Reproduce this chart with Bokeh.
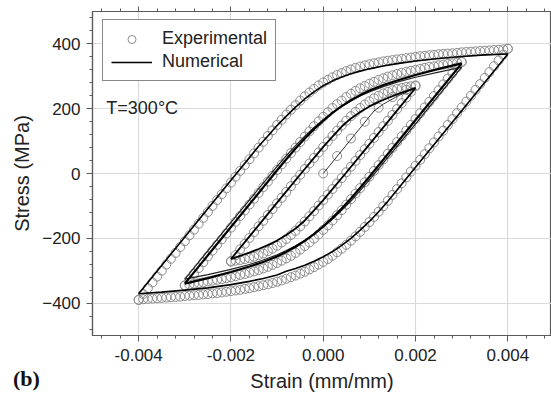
from bokeh.plotting import figure
from bokeh.models import (Legend, LegendItem, LinearAxis, SingleIntervalTicker,
                          NumeralTickFormatter, Label, Range1d, Div)
from bokeh.layouts import column
from bokeh.embed import file_html
from bokeh.resources import INLINE

# ---------------- data ----------------
# Experimental points, loop +/-0.004
STRAIN_A = [-0.0040, -0.0039, -0.0038, -0.0037, -0.0036, -0.0035, -0.0034, -0.0033, -0.0032, -0.0031,
            -0.0030, -0.0029, -0.0028, -0.0027, -0.0026, -0.0025, -0.0024, -0.0023, -0.0022, -0.0021,
            -0.0020, -0.0019, -0.0018, -0.0017, -0.0016, -0.0015, -0.0014, -0.0013, -0.0012, -0.0011,
            -0.0010, -0.0009, -0.0008, -0.0007, -0.0006, -0.0005, -0.0004, -0.0003, -0.0002, -0.0001,
            0.0000, 0.0001, 0.0002, 0.0003, 0.0004, 0.0005, 0.0006, 0.0007, 0.0008, 0.0009,
            0.0010, 0.0011, 0.0012, 0.0013, 0.0014, 0.0015, 0.0016, 0.0017, 0.0018, 0.0019,
            0.0020, 0.0021, 0.0022, 0.0023, 0.0024, 0.0025, 0.0026, 0.0027, 0.0028, 0.0029,
            0.0030, 0.0031, 0.0032, 0.0033, 0.0034, 0.0035, 0.0036, 0.0037, 0.0038, 0.0039, 0.0040]
EXP_A_UP = [-390, -372, -354, -336, -318, -300, -281, -263, -245, -227,
            -209, -191, -173, -155, -137, -119, -100, -82, -64, -46,
            -28, -10, 8, 26, 44, 62, 80, 98, 116, 133,
            150, 166, 182, 197, 211, 225, 238, 250, 261, 272,
            281, 289, 297, 304, 310, 316, 321, 326, 330, 334,
            337, 340, 343, 346, 348, 350, 352, 354, 356, 358,
            360, 362, 363, 365, 366, 368, 369, 370, 371, 372,
            374, 375, 376, 377, 378, 379, 380, 381, 382, 383, 385]
EXP_A_DOWN = [-390, -388, -387, -386, -385, -384, -383, -382, -381, -380,
              -378, -377, -376, -375, -373, -372, -370, -369, -367, -365,
              -363, -361, -359, -356, -354, -351, -348, -345, -342, -338,
              -334, -330, -325, -320, -315, -309, -303, -296, -289, -281,
              -273, -264, -254, -243, -232, -220, -207, -194, -180, -165,
              -150, -134, -118, -101, -84, -66, -48, -30, -12, 6,
              24, 42, 60, 78, 96, 114, 132, 150, 168, 186,
              204, 222, 240, 258, 276, 295, 313, 331, 349, 367, 385]

# Experimental points, loop +/-0.003
STRAIN_B = [-0.0030, -0.0029, -0.0028, -0.0027, -0.0026, -0.0025, -0.0024, -0.0023, -0.0022, -0.0021,
            -0.0020, -0.0019, -0.0018, -0.0017, -0.0016, -0.0015, -0.0014, -0.0013, -0.0012, -0.0011,
            -0.0010, -0.0009, -0.0008, -0.0007, -0.0006, -0.0005, -0.0004, -0.0003, -0.0002, -0.0001,
            0.0000, 0.0001, 0.0002, 0.0003, 0.0004, 0.0005, 0.0006, 0.0007, 0.0008, 0.0009,
            0.0010, 0.0011, 0.0012, 0.0013, 0.0014, 0.0015, 0.0016, 0.0017, 0.0018, 0.0019,
            0.0020, 0.0021, 0.0022, 0.0023, 0.0024, 0.0025, 0.0026, 0.0027, 0.0028, 0.0029, 0.0030]
EXP_B_UP = [-345, -327, -309, -292, -274, -256, -238, -220, -203, -185,
            -167, -149, -131, -114, -96, -78, -60, -42, -25, -7,
            11, 28, 46, 63, 80, 97, 114, 130, 146, 161,
            175, 189, 202, 214, 225, 236, 246, 255, 263, 270,
            277, 283, 289, 294, 299, 303, 307, 311, 314, 317,
            320, 323, 326, 329, 331, 334, 336, 338, 340, 342, 345]
EXP_B_DOWN = [-346, -343, -340, -338, -336, -333, -331, -328, -326, -323,
              -320, -317, -313, -310, -306, -302, -298, -293, -288, -282,
              -276, -269, -262, -254, -245, -235, -224, -213, -201, -188,
              -174, -160, -145, -129, -113, -96, -79, -62, -45, -27,
              -10, 8, 26, 43, 61, 79, 97, 115, 132, 150,
              168, 186, 204, 221, 239, 257, 275, 293, 310, 328, 344]

# Experimental points, loop +/-0.002
STRAIN_C = [-0.0020, -0.0019, -0.0018, -0.0017, -0.0016, -0.0015, -0.0014, -0.0013, -0.0012, -0.0011,
            -0.0010, -0.0009, -0.0008, -0.0007, -0.0006, -0.0005, -0.0004, -0.0003, -0.0002, -0.0001,
            0.0000, 0.0001, 0.0002, 0.0003, 0.0004, 0.0005, 0.0006, 0.0007, 0.0008, 0.0009,
            0.0010, 0.0011, 0.0012, 0.0013, 0.0014, 0.0015, 0.0016, 0.0017, 0.0018, 0.0019, 0.0020]
EXP_C_UP = [-270, -252, -234, -217, -199, -181, -163, -146, -128, -110,
            -92, -75, -57, -39, -21, -4, 14, 31, 48, 65,
            82, 99, 116, 132, 148, 163, 177, 190, 202, 213,
            223, 232, 240, 247, 252, 257, 261, 264, 267, 269, 272]
EXP_C_DOWN = [-272, -269, -267, -264, -261, -257, -252, -247, -240, -232,
              -223, -213, -202, -190, -177, -163, -148, -132, -116, -99,
              -82, -65, -48, -31, -14, 4, 21, 39, 57, 75,
              92, 110, 128, 146, 163, 181, 199, 217, 234, 252, 270]

# Experimental first loading
STRAIN_INIT_EXP = [0.0000, 0.0003, 0.0006, 0.0009, 0.0012, 0.0015, 0.0018]
EXP_INIT = [0, 54, 108, 160, 203, 236, 258]

# Numerical curves
NUM_A_UP_STRAIN = [-0.0040, -0.0030, -0.0020, -0.0016, -0.0014, -0.0012, -0.0010, -0.0008, -0.0006, -0.0004,
                   -0.0002, 0.0000, 0.0002, 0.0004, 0.0006, 0.0008, 0.0010, 0.0013, 0.0016, 0.0020,
                   0.0025, 0.0030, 0.0035, 0.0040]
NUM_A_UP_STRESS = [-371, -196, -21, 49, 84, 116, 148, 177, 205, 230,
                   252, 271, 286, 298, 308, 316, 323, 332, 339, 347,
                   355, 361, 366, 369]
NUM_A_DOWN_STRAIN = [0.0040, 0.0030, 0.0020, 0.0016, 0.0014, 0.0012, 0.0010, 0.0008, 0.0006, 0.0004,
                     0.0002, 0.0000, -0.0002, -0.0004, -0.0006, -0.0008, -0.0010, -0.0013, -0.0016, -0.0020,
                     -0.0025, -0.0030, -0.0035, -0.0040]
NUM_A_DOWN_STRESS = [369, 194, 19, -51, -86, -118, -148, -175, -200, -222,
                     -241, -257, -271, -283, -293, -302, -313, -324, -333, -343,
                     -353, -360, -366, -371]

NUM_B_UP_STRAIN = [-0.0030, -0.0020, -0.0010, -0.0008, -0.0006, -0.0004, -0.0002, 0.0000, 0.0002,
                   0.0004, 0.0006, 0.0008, 0.0010, 0.0013, 0.0016, 0.0020, 0.0025, 0.0030]
NUM_B_UP_STRESS = [-340, -165, 10, 44, 77, 108, 137, 163, 187,
                   208, 226, 242, 256, 273, 287, 304, 323, 340]
NUM_B1_UP_STRESS = [-326, -151, 22, 55, 86, 115, 142, 166, 188,
                    207, 224, 239, 252, 268, 282, 297, 313, 328]
NUM_B_DOWN_STRAIN = [0.0030, 0.0020, 0.0010, 0.0008, 0.0006, 0.0004, 0.0002, 0.0000, -0.0002,
                     -0.0004, -0.0006, -0.0008, -0.0010, -0.0013, -0.0016, -0.0020, -0.0025, -0.0030]
NUM_B_DOWN_STRESS = [340, 165, -10, -44, -77, -108, -137, -163, -187,
                     -208, -226, -242, -256, -273, -287, -304, -323, -340]
NUM_B1_DOWN_STRESS = [328, 153, -20, -53, -85, -114, -141, -165, -187,
                      -206, -223, -238, -251, -267, -281, -296, -312, -326]

NUM_C_UP_STRAIN = [-0.0020, -0.0015, -0.0010, -0.0005, 0.0000, 0.0002, 0.0004, 0.0006, 0.0008,
                   0.0010, 0.0012, 0.0014, 0.0016, 0.0018, 0.0020]
NUM_C_UP_STRESS = [-264, -177, -90, -3, 82, 114, 145, 170, 190,
                   207, 221, 233, 244, 254, 264]
NUM_C_DOWN_STRAIN = [0.0020, 0.0015, 0.0010, 0.0005, 0.0000, -0.0002, -0.0004, -0.0006, -0.0008,
                     -0.0010, -0.0012, -0.0014, -0.0016, -0.0018, -0.0020]
NUM_C_DOWN_STRESS = [264, 177, 90, 3, -82, -114, -145, -170, -190,
                     -207, -221, -233, -244, -254, -264]

NUM_INIT_STRAIN = [0.0000, 0.0011, 0.0013, 0.0016, 0.0020]
NUM_INIT_STRESS = [0, 193, 214, 238, 264]

X_TICKS_INTERVAL = 0.002
Y_TICKS_INTERVAL = 200

# ---------------- figure ----------------
FONT = "Liberation Sans"
AX_COL = "#5a5a5a"

p = figure(width=551, height=395, output_backend="svg", toolbar_location=None,
           x_range=Range1d(-0.005, 0.004946), y_range=Range1d(-500, 500),
           min_border_left=92, min_border_right=0, min_border_top=11, min_border_bottom=60,
           x_axis_label="Strain (mm/mm)", y_axis_label="Stress (MPa)")
p.background_fill_color = "white"
p.border_fill_color = "white"
p.outline_line_color = AX_COL
p.outline_line_width = 1.2

bottom = p.below[0]
left = p.left[0]

xt = SingleIntervalTicker(interval=X_TICKS_INTERVAL, num_minor_ticks=5)
yt = SingleIntervalTicker(interval=Y_TICKS_INTERVAL, num_minor_ticks=5)
bottom.ticker = xt
left.ticker = yt
bottom.formatter = NumeralTickFormatter(format="0.000")
p.xgrid.ticker = xt
p.ygrid.ticker = yt
for g in (p.xgrid, p.ygrid):
    g.grid_line_color = "#dadada"
    g.grid_line_width = 1.2

top = LinearAxis(ticker=SingleIntervalTicker(interval=X_TICKS_INTERVAL, num_minor_ticks=5),
                 major_label_text_font_size="0px", major_label_text_color=None,
                 major_label_standoff=0)
p.add_layout(top, "above")

for ax in (bottom, left, top):
    ax.axis_line_color = AX_COL
    ax.axis_line_width = 1.2
    ax.major_tick_line_color = AX_COL
    ax.minor_tick_line_color = AX_COL
    ax.major_tick_in = 0
    ax.major_tick_out = 6
    ax.minor_tick_in = 0
    ax.minor_tick_out = 3
    ax.axis_label_text_font_style = "normal"
    ax.axis_label_text_color = "#222222"
top.major_tick_out = 5

for ax in (bottom, left):
    ax.major_label_text_font = FONT
    ax.major_label_text_color = "#222222"
    ax.major_label_text_font_size = "17px"
    ax.axis_label_text_font = FONT
    ax.axis_label_text_font_size = "20px"
bottom.major_label_standoff = 7
bottom.axis_label_standoff = 6
left.major_label_standoff = 6
left.axis_label_standoff = 6

EXP_COL = "#8c8c8c"
exp_kw = dict(size=9, marker="circle", fill_color=None, line_color=EXP_COL, line_width=1)
r_exp = p.scatter(STRAIN_A, EXP_A_UP, **exp_kw)
p.scatter(STRAIN_A, EXP_A_DOWN, **exp_kw)
p.scatter(STRAIN_B, EXP_B_UP, **exp_kw)
p.scatter(STRAIN_B, EXP_B_DOWN, **exp_kw)
p.scatter(STRAIN_C, EXP_C_UP, **exp_kw)
p.scatter(STRAIN_C, EXP_C_DOWN, **exp_kw)
p.scatter(STRAIN_INIT_EXP, EXP_INIT, **exp_kw)

r_num = p.line(NUM_A_UP_STRAIN, NUM_A_UP_STRESS, line_color="black", line_width=1.6)
p.line(NUM_A_DOWN_STRAIN, NUM_A_DOWN_STRESS, line_color="black", line_width=1.6)
p.line(NUM_B_UP_STRAIN, NUM_B1_UP_STRESS, line_color="#222222", line_width=1.2)
p.line(NUM_B_DOWN_STRAIN, NUM_B1_DOWN_STRESS, line_color="#222222", line_width=1.2)
p.line(NUM_B_UP_STRAIN, NUM_B_UP_STRESS, line_color="black", line_width=2.2)
p.line(NUM_B_DOWN_STRAIN, NUM_B_DOWN_STRESS, line_color="black", line_width=2.2)
p.line(NUM_C_UP_STRAIN, NUM_C_UP_STRESS, line_color="black", line_width=1.8)
p.line(NUM_C_DOWN_STRAIN, NUM_C_DOWN_STRESS, line_color="black", line_width=1.8)
p.line(NUM_INIT_STRAIN, NUM_INIT_STRESS, line_color="black", line_width=0.8)

legend = Legend(items=[LegendItem(label="Experimental", renderers=[r_exp]),
                       LegendItem(label="Numerical", renderers=[r_num])],
                location=(10, 254), border_line_color="#111111", border_line_width=1.2,
                label_text_font=FONT, label_text_font_size="18px", label_text_color="#222222",
                glyph_width=41, glyph_height=20, label_height=20, label_standoff=10,
                padding=8, spacing=2, margin=0, background_fill_color="white",
                background_fill_alpha=1.0)
p.add_layout(legend, "center")

p.add_layout(Label(x=-0.0047, y=203, text="T=300°C", text_font=FONT, text_font_size="18px",
                   text_baseline="middle", text_color="#222222"))

# panel tag "(b)" overlaid at the bottom-left corner of the page
tag = Div(text="(b)", styles={"position": "absolute", "left": "8px", "top": "362px",
                              "font-family": "'Liberation Serif', serif", "font-weight": "bold",
                              "font-size": "22px", "line-height": "24px", "color": "#111111",
                              "z-index": "10"})
page = column(p, tag, spacing=0)

open("out.html", "w").write(file_html(page, INLINE))
